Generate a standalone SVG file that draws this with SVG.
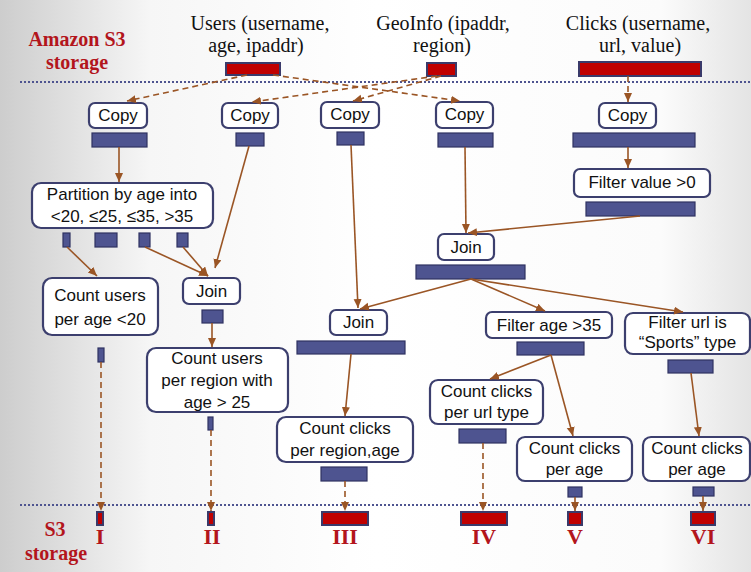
<svg xmlns="http://www.w3.org/2000/svg" width="751" height="572" viewBox="0 0 751 572">
<defs>
<linearGradient id="bg" x1="0" y1="0" x2="1" y2="0">
<stop offset="0" stop-color="#cdcdcd"/>
<stop offset="0.2" stop-color="#f6f6f6"/>
<stop offset="0.5" stop-color="#ffffff"/>
<stop offset="0.88" stop-color="#fbfbfb"/>
<stop offset="1" stop-color="#e4e4e4"/>
</linearGradient>
<marker id="ah" markerUnits="userSpaceOnUse" markerWidth="10" markerHeight="9" refX="9" refY="4" orient="auto">
<path d="M0,0 L9,4 L0,8 z" fill="#9a5525"/>
</marker>
<style>
.box{fill:#fff;stroke:#3c3f6e;stroke-width:2.2}
.bar{fill:#4e5490;stroke:#2f3262;stroke-width:1.2}
.out{fill:#c00000;stroke:#3a3a6a;stroke-width:2}
.t{font-family:"Liberation Sans",Arial,sans-serif;font-size:17px;fill:#111;text-anchor:middle}
.st{font-family:"Liberation Serif","Times New Roman",serif;font-size:20px;fill:#111;text-anchor:middle}
.rt{font-family:"Liberation Serif","Times New Roman",serif;font-size:20px;font-weight:bold;fill:#b3151c;text-anchor:middle}
.rn{font-family:"Liberation Serif","Times New Roman",serif;font-size:22px;font-weight:bold;fill:#b3151c;text-anchor:middle}
.sol{stroke:#9a5525;stroke-width:1.6;fill:none;marker-end:url(#ah)}
.dsh{stroke:#9a5525;stroke-width:1.6;fill:none;stroke-dasharray:6 4;marker-end:url(#ah)}
.dot{stroke:#4e5490;stroke-width:2;stroke-dasharray:2 2;fill:none}
</style>
</defs>
<rect x="0" y="0" width="751" height="572" fill="url(#bg)"/>

<g id="labels">
<text class="rt" x="77" y="46">Amazon S3</text>
<text class="rt" x="77" y="69">storage</text>
<text class="rt" x="55" y="536">S3</text>
<text class="rt" x="56" y="560">storage</text>
<line class="dot" x1="20" y1="82" x2="751" y2="82"/>
<line class="dot" x1="20" y1="505" x2="751" y2="505"/>
</g>

<g id="src-users">
<text class="st" x="260" y="30">Users (username,</text>
<text class="st" x="256" y="52">age, ipaddr)</text>
<rect class="out" x="226" y="63" width="54" height="12"/>
</g>
<g id="src-geoinfo">
<text class="st" x="443" y="30">GeoInfo (ipaddr,</text>
<text class="st" x="442" y="52">region)</text>
<rect class="out" x="427" y="63" width="29" height="13"/>
</g>
<g id="src-clicks">
<text class="st" x="638" y="30">Clicks (username,</text>
<text class="st" x="640" y="52">url, value)</text>
<rect class="out" x="579" y="62" width="122" height="14"/>
</g>

<g id="copy1">
<rect class="box" x="89" y="103" width="58" height="25" rx="6"/>
<text class="t" x="118" y="121">Copy</text>
<rect class="bar" x="92" y="133" width="55" height="14"/>
</g>
<g id="copy2">
<rect class="box" x="222" y="103" width="56" height="25" rx="6"/>
<text class="t" x="250" y="121">Copy</text>
<rect class="bar" x="236" y="133" width="28" height="13"/>
</g>
<g id="copy3">
<rect class="box" x="321" y="102" width="58" height="26" rx="6"/>
<text class="t" x="350" y="120">Copy</text>
<rect class="bar" x="337" y="132" width="27" height="13"/>
</g>
<g id="copy4">
<rect class="box" x="436" y="102" width="57" height="26" rx="6"/>
<text class="t" x="464.5" y="120">Copy</text>
<rect class="bar" x="438" y="133" width="55" height="14"/>
</g>
<g id="copy5">
<rect class="box" x="599" y="103" width="57" height="25" rx="6"/>
<text class="t" x="627.5" y="121">Copy</text>
<rect class="bar" x="573" y="133" width="122" height="14"/>
</g>

<g id="partition">
<rect class="box" x="32" y="183" width="181" height="45" rx="9"/>
<text class="t" x="122" y="200">Partition by age into</text>
<text class="t" x="122" y="222">&lt;20, ≤25, ≤35, &gt;35</text>
<rect class="bar" x="63" y="233" width="7" height="14"/>
<rect class="bar" x="95" y="233" width="22" height="14"/>
<rect class="bar" x="139" y="233" width="11" height="14"/>
<rect class="bar" x="177" y="233" width="11" height="14"/>
</g>

<g id="count-users-age">
<rect class="box" x="43" y="278" width="115" height="57" rx="9"/>
<text class="t" x="100" y="301">Count users</text>
<text class="t" x="100" y="325">per age &lt;20</text>
<rect class="bar" x="98" y="348" width="6" height="14"/>
</g>

<g id="join1">
<rect class="box" x="183" y="278" width="57" height="26" rx="6"/>
<text class="t" x="211.5" y="297">Join</text>
<rect class="bar" x="202" y="310" width="21" height="13"/>
</g>

<g id="count-users-region">
<rect class="box" x="147" y="348" width="141" height="64" rx="9"/>
<text class="t" x="217" y="364">Count users</text>
<text class="t" x="217" y="386">per region with</text>
<text class="t" x="217" y="408">age &gt; 25</text>
<rect class="bar" x="208" y="417" width="5" height="13"/>
</g>

<g id="filter-value">
<rect class="box" x="574" y="169" width="136" height="28" rx="6"/>
<text class="t" x="642" y="188">Filter value &gt;0</text>
<rect class="bar" x="586" y="202" width="109" height="14"/>
</g>

<g id="join3">
<rect class="box" x="438" y="234" width="56" height="26" rx="6"/>
<text class="t" x="466" y="253">Join</text>
<rect class="bar" x="416" y="265" width="109" height="14"/>
</g>

<g id="join2">
<rect class="box" x="330" y="310" width="57" height="25" rx="6"/>
<text class="t" x="358.5" y="328">Join</text>
<rect class="bar" x="297" y="341" width="108" height="13"/>
</g>

<g id="count-clicks-region">
<rect class="box" x="277" y="417" width="136" height="45" rx="9"/>
<text class="t" x="345" y="434">Count clicks</text>
<text class="t" x="345" y="456">per region,age</text>
<rect class="bar" x="321" y="467" width="46" height="14"/>
</g>

<g id="filter-age">
<rect class="box" x="486" y="312" width="126" height="26" rx="6"/>
<text class="t" x="549" y="331">Filter age &gt;35</text>
<rect class="bar" x="517" y="342" width="67" height="13"/>
</g>

<g id="filter-url">
<rect class="box" x="625" y="313" width="125" height="41" rx="8"/>
<text class="t" x="687.5" y="328">Filter url is</text>
<text class="t" x="687.5" y="348">“Sports” type</text>
<rect class="bar" x="668" y="360" width="45" height="13"/>
</g>

<g id="count-clicks-url">
<rect class="box" x="430" y="380" width="113" height="44" rx="8"/>
<text class="t" x="486.5" y="397">Count clicks</text>
<text class="t" x="486.5" y="418">per url type</text>
<rect class="bar" x="459" y="429" width="47" height="14"/>
</g>

<g id="count-clicks-age-v">
<rect class="box" x="517" y="437" width="115" height="44" rx="8"/>
<text class="t" x="574.5" y="454">Count clicks</text>
<text class="t" x="574.5" y="475">per age</text>
<rect class="bar" x="568" y="487" width="14" height="10"/>
</g>

<g id="count-clicks-age-vi">
<rect class="box" x="643" y="437" width="107" height="44" rx="8"/>
<text class="t" x="697" y="454">Count clicks</text>
<text class="t" x="697" y="475">per age</text>
<rect class="bar" x="693" y="487" width="21" height="9"/>
</g>

<g id="outputs">
<rect class="out" x="97" y="512" width="6" height="13"/>
<rect class="out" x="208" y="512" width="6" height="13"/>
<rect class="out" x="322" y="512" width="46" height="13"/>
<rect class="out" x="461" y="512" width="46" height="13"/>
<rect class="out" x="568" y="512" width="14" height="13"/>
<rect class="out" x="691" y="512" width="24" height="13"/>
<text class="rn" x="100" y="544">I</text>
<text class="rn" x="212" y="544">II</text>
<text class="rn" x="345" y="544">III</text>
<text class="rn" x="484" y="544">IV</text>
<text class="rn" x="575" y="544">V</text>
<text class="rn" x="703" y="544">VI</text>
</g>

<g id="connectors">
<line class="dsh" x1="247" y1="75" x2="127" y2="101"/>
<line class="dsh" x1="273" y1="75" x2="460" y2="101"/>
<line class="dsh" x1="437" y1="76" x2="252" y2="102"/>
<line class="dsh" x1="441" y1="76" x2="353" y2="101"/>
<line class="dsh" x1="628" y1="76" x2="628" y2="102"/>
<line class="sol" x1="119" y1="147" x2="119" y2="182"/>
<line class="sol" x1="249" y1="146" x2="215" y2="268"/>
<line class="sol" x1="67" y1="247" x2="97" y2="276"/>
<line class="sol" x1="145" y1="247" x2="208" y2="276"/>
<line class="sol" x1="183" y1="247" x2="208" y2="276"/>
<line class="sol" x1="212" y1="323" x2="212" y2="347"/>
<line class="sol" x1="351" y1="145" x2="358" y2="308"/>
<line class="sol" x1="465" y1="147" x2="466" y2="233"/>
<line class="sol" x1="628" y1="147" x2="628" y2="168"/>
<line class="sol" x1="640" y1="216" x2="468" y2="233"/>
<line class="sol" x1="471" y1="279" x2="360" y2="309"/>
<line class="sol" x1="471" y1="279" x2="545" y2="311"/>
<line class="sol" x1="471" y1="279" x2="683" y2="312"/>
<line class="sol" x1="351" y1="354" x2="345" y2="416"/>
<line class="sol" x1="551" y1="355" x2="490" y2="379"/>
<line class="sol" x1="551" y1="355" x2="573" y2="436"/>
<line class="sol" x1="691" y1="373" x2="699" y2="436"/>
<line class="dsh" x1="101" y1="362" x2="101" y2="511"/>
<line class="dsh" x1="211" y1="430" x2="211" y2="511"/>
<line class="dsh" x1="345" y1="481" x2="345" y2="511"/>
<line class="dsh" x1="483" y1="443" x2="483" y2="511"/>
<line class="dsh" x1="575" y1="497" x2="575" y2="511"/>
<line class="dsh" x1="703" y1="496" x2="703" y2="511"/>
</g>
</svg>
